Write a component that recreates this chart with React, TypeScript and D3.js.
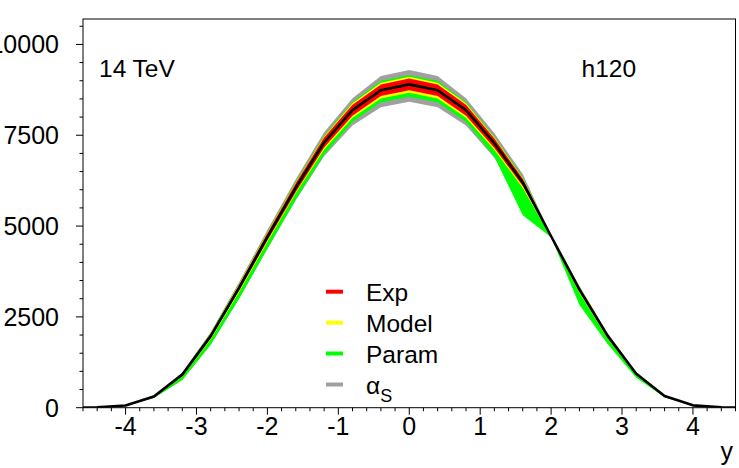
import React from "react";
import * as d3 from "d3";

const xs = [-4.6, -4.4, -4.0, -3.6, -3.2, -2.8, -2.4, -2.0, -1.6, -1.2, -0.8, -0.4, 0, 0.4, 0.8, 1.2, 1.6, 2.0, 2.4, 2.8, 3.2, 3.6, 4.0, 4.4, 4.6];
const central = [2, 12, 60, 310, 910, 1970, 3300, 4700, 6060, 7300, 8190, 8740, 8900, 8740, 8190, 7280, 6200, 4720, 3250, 1970, 935, 320, 65, 14, 3];

const expUp = [0, 0, 3, 12, 35, 60, 80, 100, 120, 140, 150, 160, 165, 160, 150, 130, 100, 20, 60, 50, 30, 12, 3, 0, 0];
const expDn = [0, 0, 3, 12, 35, 60, 80, 100, 120, 140, 150, 158, 160, 158, 150, 130, 100, 20, 60, 50, 30, 12, 3, 0, 0];
const modelUp = [0, 0, 4, 15, 45, 75, 100, 120, 140, 165, 190, 205, 210, 205, 190, 160, 120, 25, 70, 60, 40, 15, 4, 0, 0];
const modelDn = [0, 0, 4, 15, 55, 90, 120, 140, 160, 190, 210, 225, 230, 225, 210, 180, 150, 25, 90, 70, 40, 15, 4, 0, 0];
const paramUp = [0, 0, 5, 15, 50, 85, 110, 140, 160, 190, 220, 250, 255, 250, 220, 180, 150, 25, 80, 60, 40, 15, 5, 0, 0];
const paramDn = [0, 1, 8, 40, 150, 240, 300, 320, 330, 330, 320, 335, 340, 335, 320, 370, 900, 30, 420, 220, 110, 30, 8, 1, 0];
const alphaUp = [0, 1, 8, 40, 60, 110, 150, 190, 230, 280, 330, 390, 395, 390, 330, 275, 230, 30, 100, 70, 50, 20, 8, 1, 0];
const alphaDn = [0, 1, 8, 40, 150, 240, 300, 330, 350, 380, 420, 470, 480, 470, 420, 400, 500, 30, 200, 150, 80, 30, 8, 1, 0];

const xTickLabels = [-4, -3, -2, -1, 0, 1, 2, 3, 4];
const yTickLabels = [0, 2500, 5000, 7500, 10000];
const legendLabels = ["Exp", "Model", "Param", "alpha"];
const legendColors = ["#ff0000", "#ffff00", "#00ff00", "#a0a0a0"];

const W = 739;
const H = 468;
const L = 83;
const R = 735.5;
const T = 19;
const B = 407.7;
const FONT = "'Liberation Sans', Arial, Helvetica, sans-serif";

export default function App() {
  const x = d3.scaleLinear().domain([-4.6, 4.6]).range([L, R]);
  const y = d3.scaleLinear().domain([0, 10700]).range([B, T]);

  const idx = xs.map((_, i) => i);
  const band = (up: number[], dn: number[]) =>
    d3
      .area<number>()
      .x((i) => x(xs[i]))
      .y0((i) => y(central[i] - dn[i]))
      .y1((i) => y(central[i] + up[i]))(idx) as string;
  const line = d3
    .line<number>()
    .x((i) => x(xs[i]))
    .y((i) => y(central[i]))(idx) as string;

  const xMinor = d3.range(-46, 47, 2).map((v) => v / 10);
  const yMinor = d3.range(0, 10701, 500);

  const legendY = [291.7, 322.7, 353.5, 384.5];

  return (
    <svg
      width={W}
      height={H}
      style={{ position: "absolute", left: 0, top: 0, background: "#fff" }}
      fontFamily={FONT}
    >
      <rect x={0} y={0} width={W} height={H} fill="#fff" />
      <defs>
        <clipPath id="plotclip">
          <rect x={L} y={T} width={R - L} height={B - T} />
        </clipPath>
      </defs>
      <g clipPath="url(#plotclip)">
        <path d={band(alphaUp, alphaDn)} fill="#a0a0a0" />
        <path d={band(paramUp, paramDn)} fill="#00ff00" />
        <path d={band(modelUp, modelDn)} fill="#ffff00" />
        <path d={band(expUp, expDn)} fill="#ff0000" />
        <path d={line} fill="none" stroke="#000" strokeWidth={2.6} strokeLinejoin="round" />
      </g>
      <rect x={L} y={T} width={R - L} height={B - T} fill="none" stroke="#000" strokeWidth={1} />

      {/* y axis ticks */}
      {yMinor.map((v) => (
        <line key={"ym" + v} x1={L} x2={L - (v % 2500 === 0 ? 7 : 3.5)} y1={y(v)} y2={y(v)} stroke="#000" strokeWidth={1} />
      ))}
      {yTickLabels.map((v) => (
        <text key={"yl" + v} x={59} y={y(v) + 9} fontSize={25} textAnchor="end" fill="#000">
          {v}
        </text>
      ))}

      {/* x axis ticks */}
      {xMinor.map((v) => (
        <line
          key={"xm" + v}
          x1={x(v)}
          x2={x(v)}
          y1={B}
          y2={B + (Math.abs(v - Math.round(v)) < 1e-6 ? 7 : 3.5)}
          stroke="#000"
          strokeWidth={1}
        />
      ))}
      {xTickLabels.map((v) => (
        <text key={"xl" + v} x={x(v)} y={435} fontSize={25} textAnchor="middle" fill="#000">
          {v}
        </text>
      ))}
      <text x={733} y={460} fontSize={25} textAnchor="end" fill="#000">
        y
      </text>

      <text x={99} y={76.7} fontSize={24.5} fill="#000">
        14 TeV
      </text>
      <text x={581.5} y={76.7} fontSize={24.5} fill="#000">
        h120
      </text>

      {/* legend */}
      {legendLabels.map((lab, i) => (
        <g key={lab}>
          <line x1={326} x2={343} y1={legendY[i]} y2={legendY[i]} stroke={legendColors[i]} strokeWidth={4} />
          {lab === "alpha" ? (
            <text x={366} y={legendY[i] + 9} fontSize={24.5} fill="#000">
              α
              <tspan fontSize={18} dy={8}>
                S
              </tspan>
            </text>
          ) : (
            <text x={366} y={legendY[i] + 9.5} fontSize={24.5} fill="#000">
              {lab}
            </text>
          )}
        </g>
      ))}
    </svg>
  );
}
